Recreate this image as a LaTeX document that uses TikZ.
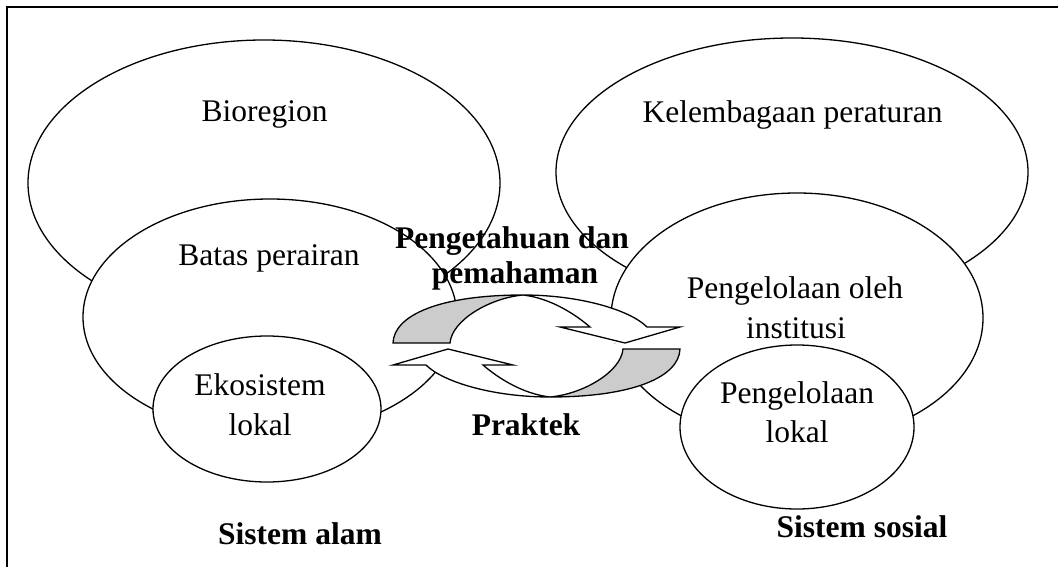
\documentclass[tikz,border=0pt]{standalone}
\usepackage{fontspec}
\setmainfont{Liberation Serif}
\begin{document}
\begin{tikzpicture}[x=1pt,y=-1pt,
  outline/.style={draw=black,line width=1.3pt,fill=white},
  ribbon/.style={draw=black,line width=1.3pt,line join=miter},
  label/.style={font=\fontsize{31.5}{38}\selectfont,anchor=base,inner sep=0pt},
  title/.style={label,font=\fontsize{31.5}{38}\selectfont\bfseries}]
\useasboundingbox (0,0) rectangle (1058,567);

% open frame: top and left edges
\coordinate (fa) at (1058,7);
\coordinate (fb) at (7,7);
\coordinate (fc) at (7,567);
\draw[line width=1.3pt] (fa) -- (fb) -- (fc);

% nested scales: large, middle, small
\draw[outline] (264,183) ellipse [x radius=236pt, y radius=143pt];
\draw[outline] (792,172) ellipse [x radius=236pt, y radius=134pt];
\draw[outline] (270,317) ellipse [x radius=187pt, y radius=118pt];
\draw[outline] (797,318) ellipse [x radius=186pt, y radius=125pt];
\draw[outline] (267,409) ellipse [x radius=114pt, y radius=73pt];
\draw[outline] (797,427) ellipse [x radius=117pt, y radius=82pt];

% circular arrows: white core, then the two twisted ribbons
\def\halfeye{(450,343) .. controls (452,320) and (490,298) .. (523,295)
  .. controls (550,298) and (575,314) .. (590,327) -- (560,327) -- (625,343)
  -- (448,349) -- cycle}
\fill[white] \halfeye;
\fill[white, rotate around={180:(536.5,346)}] \halfeye;
\foreach \r in {0,180}{
  \begin{scope}[rotate around={\r:(536.5,346)}]
    \draw[ribbon, fill=black!20] (393,343) .. controls (394,315) and (440,295) .. (523,295)
      .. controls (490,298) and (452,320) .. (450,343) -- cycle;
    \draw[ribbon, fill=white] (523,295) .. controls (580,295) and (630,310) .. (647,327)
      -- (680,327) -- (625,343) -- (560,327) -- (590,327)
      .. controls (575,314) and (550,298) .. (523,295) -- cycle;
  \end{scope}
}

% labels
\node[label] (bio) at (264.5,122) {Bioregion};
\node[label] (kel) at (792.5,123) {Kelembagaan peraturan};
\node[label] (bat) at (269,265) {Batas perairan};
\node[label] (peo1) at (795,298) {Pengelolaan oleh};
\node[label] (peo2) at (796,338) {institusi};
\node[label] (eko1) at (260,395) {Ekosistem};
\node[label] (eko2) at (260,435) {lokal};
\node[label] (pel1) at (797,403) {Pengelolaan};
\node[label] (pel2) at (797,442) {lokal};
\node[title] (pen1) at (512,248) {Pengetahuan dan};
\node[title] (pen2) at (515,283) {pemahaman};
\node[title] (pra) at (526,435) {Praktek};
\node[title] (sa) at (300,544) {Sistem alam};
\node[title] (ss) at (862,537) {Sistem sosial};
\end{tikzpicture}
\end{document}
